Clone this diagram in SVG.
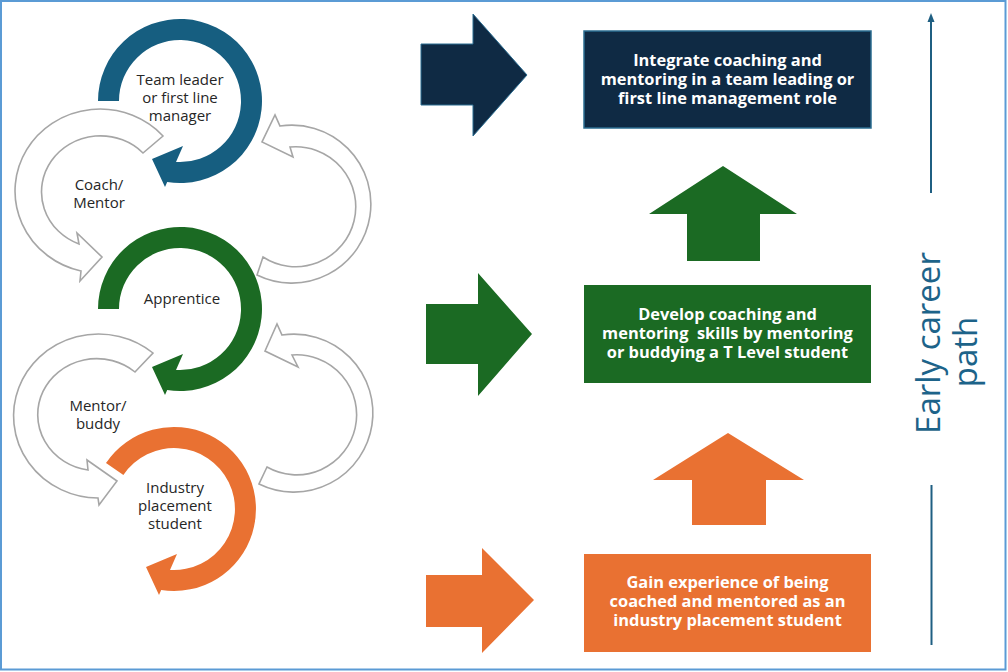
<svg xmlns="http://www.w3.org/2000/svg" width="1008" height="672" viewBox="0 0 1008 672">
  <style>
    .lbl { font-family: "Open Sans", "Liberation Sans", sans-serif; font-size: 15px; fill: #262626; text-anchor: middle; }
    .bx { font-family: "Open Sans", "Liberation Sans", sans-serif; font-size: 16.4px; font-weight: 700; fill: #ffffff; text-anchor: middle; }
    .grey { fill: #ffffff; stroke: #a6a6a6; stroke-width: 1.6; stroke-linejoin: miter; }
    .path-lbl { font-family: "Open Sans", "Liberation Sans", sans-serif; font-size: 33px; fill: #1d6389; text-anchor: middle; }
  </style>
  <defs>
    <path id="ringA" d="M-82,0 A82,82 0 1 1 -12.8,81 L-15,86 L-28,58 L3,45 L-4,60.9 A61,61 0 1 0 -61,0 Z"/>
    <path id="ringB" d="M-68,-45.9 A82,82 0 1 1 -12.8,81 L-15,86 L-28,58 L3,45 L-4,60.9 A61,61 0 1 0 -50.6,-34.1 Z"/>
  </defs>
  <rect x="0" y="0" width="1008" height="672" fill="#ffffff"/>
  <rect x="1" y="1" width="1004.5" height="668.5" fill="none" stroke="#5b9bd5" stroke-width="2"/>

  <g id="connectors">
    <!-- grey cycle arrows -->
    <path class="grey" d="M163,136 A85,82 0 1 0 81,271 L80,281 L102,257 L77,233 L79,244 A59,56 0 1 1 143,153 Z"/>
    <path class="grey" d="M153,353 A85,82 0 1 0 98,498 L99,505 L117,481 L87,460 L88,470 A59,56 0 1 1 135,372 Z"/>
    <path class="grey" d="M257,275 A79,79 0 1 0 280,126 L275,115 L262,142 L293,157 L290,147 A60,60 0 1 1 263,257 Z"/>
    <path class="grey" d="M259,484 A79,79 0 1 0 282,335 L277,324 L265,351 L298,367 L292,355 A60,60 0 1 1 267,467 Z"/>
    <!-- right block arrows -->
    <polygon points="421,44 473,44 473,14 527,75 473,136 473,105 421,105" fill="#0f2a44" stroke="#2b6d91" stroke-width="1"/>
    <polygon points="426,304 478,304 478,273 532,334 478,396 478,364 426,364" fill="#1b6a23"/>
    <polygon points="426,575 482,575 482,548 534,600 482,653 482,627 426,627" fill="#e97132"/>
    <!-- up arrows -->
    <polygon points="723,166 797,214 760,214 760,261 687,261 687,214 649,214" fill="#1b6a23"/>
    <polygon points="728,433 804,480 766,480 766,525 692,525 692,480 653,480" fill="#e97132"/>
    <!-- early career path line -->
    <line x1="931" y1="20" x2="931" y2="193" stroke="#1f5f82" stroke-width="2"/>
    <polygon points="931,13 927.5,22 934.5,22" fill="#1f5f82"/>
    <line x1="931.5" y1="485" x2="931.5" y2="645" stroke="#1f5f82" stroke-width="2"/>
  </g>

  <g id="ring-team-leader">
    <use href="#ringA" transform="translate(180,101)" fill="#165e80"/>
    <text class="lbl" x="180" y="85">Team leader</text>
    <text class="lbl" x="180" y="103">or first line</text>
    <text class="lbl" x="180" y="121">manager</text>
  </g>
  <g id="ring-apprentice">
    <use href="#ringA" transform="translate(180,309)" fill="#1b6a23"/>
    <text class="lbl" x="182" y="304">Apprentice</text>
  </g>
  <g id="ring-industry">
    <use href="#ringB" transform="translate(174,509)" fill="#e97132"/>
    <text class="lbl" x="175" y="493">Industry</text>
    <text class="lbl" x="175" y="511">placement</text>
    <text class="lbl" x="175" y="529">student</text>
  </g>
  <g id="label-coach">
    <text class="lbl" x="99" y="190">Coach/</text>
    <text class="lbl" x="99" y="208">Mentor</text>
  </g>
  <g id="label-mentor-buddy">
    <text class="lbl" x="98" y="411">Mentor/</text>
    <text class="lbl" x="98" y="429">buddy</text>
  </g>

  <g id="box-integrate">
    <rect x="584" y="31" width="287" height="97" fill="#0f2a44" stroke="#2b6d91" stroke-width="1.5"/>
    <text class="bx" x="727.5" y="66">Integrate coaching and</text>
    <text class="bx" x="727.5" y="85">mentoring in a team leading or</text>
    <text class="bx" x="727.5" y="104">first line management role</text>
  </g>
  <g id="box-develop">
    <rect x="584" y="285" width="287" height="98" fill="#1b6a23"/>
    <text class="bx" x="727.5" y="320">Develop coaching and</text>
    <text class="bx" x="727.5" y="339" xml:space="preserve">mentoring  skills by mentoring</text>
    <text class="bx" x="727.5" y="358">or buddying a T Level student</text>
  </g>
  <g id="box-gain">
    <rect x="584" y="554" width="287" height="98" fill="#e97132"/>
    <text class="bx" x="727.5" y="588">Gain experience of being</text>
    <text class="bx" x="727.5" y="607">coached and mentored as an</text>
    <text class="bx" x="727.5" y="626">industry placement student</text>
  </g>

  <g id="label-early-career">
    <text class="path-lbl" transform="translate(940,343) rotate(-90)">Early career</text>
    <text class="path-lbl" transform="translate(977,352) rotate(-90)">path</text>
  </g>
</svg>
